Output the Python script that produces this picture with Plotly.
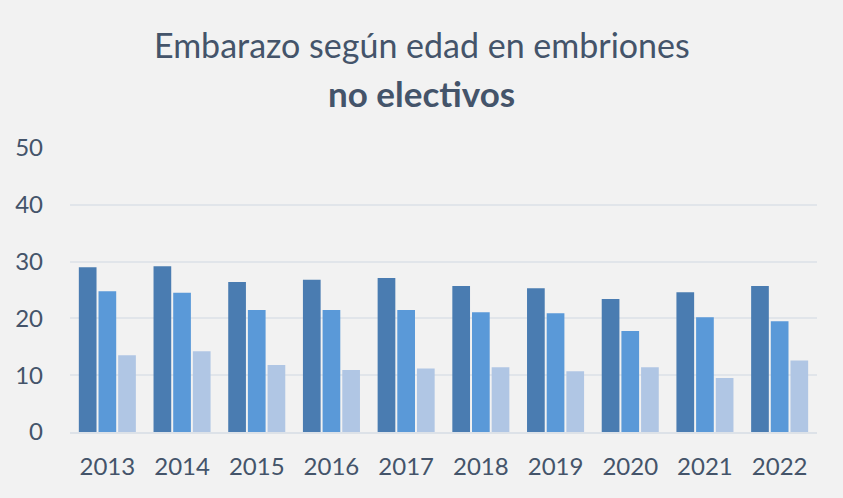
import plotly.graph_objects as go

years = ["2013", "2014", "2015", "2016", "2017", "2018", "2019", "2020", "2021", "2022"]
serie_a = [29.0, 29.2, 26.4, 26.8, 27.1, 25.7, 25.3, 23.4, 24.6, 25.7]
serie_b = [24.8, 24.5, 21.5, 21.5, 21.5, 21.1, 20.9, 17.8, 20.2, 19.5]
serie_c = [13.5, 14.2, 11.8, 10.9, 11.2, 11.4, 10.7, 11.4, 9.5, 12.6]
y_ticks = [0, 10, 20, 30, 40, 50]

colors = ["#4a7cb1", "#5a99d8", "#b0c6e4"]
text_color = "#44546a"
font = "Lato, Open Sans, sans-serif"

W, H = 843, 498
L, R, T, B = 70, 26, 148, 66

fig = go.Figure()
for vals, c in zip([serie_a, serie_b, serie_c], colors):
    fig.add_trace(go.Bar(x=years, y=vals, marker=dict(color=c, line=dict(width=0)),
                         hoverinfo="y", showlegend=False))

plot_h = H - T - B
plot_w = W - L - R
def py(pix_from_top):
    return (H - pix_from_top - B) / plot_h

fig.update_layout(
    width=W, height=H,
    paper_bgcolor="#f2f2f2", plot_bgcolor="#f2f2f2",
    margin=dict(l=L, r=R, t=T, b=B),
    barmode="group", bargap=0.21, bargroupgap=0.1,
    font=dict(family=font, color=text_color, size=24),
    xaxis=dict(showgrid=False, showline=True, linecolor="#dde2e8", linewidth=2,
               ticks="", ticklabelstandoff=12, tickfont=dict(size=24, color=text_color)),
    yaxis=dict(range=[0, 50], tickvals=y_ticks, showgrid=True, gridcolor="#e1e5ea",
               gridwidth=1.5, zeroline=False, showline=False, ticks="",
               ticklabelstandoff=26, tickfont=dict(size=24, color=text_color)),
    annotations=[
        dict(text="Embarazo según edad en embriones", x=(W / 2 - L) / plot_w, y=py(45),
             xref="paper", yref="paper", xanchor="center", yanchor="middle",
             showarrow=False, font=dict(size=34, color=text_color, family=font)),
        dict(text="<b>no electivos</b>", x=(W / 2 - L) / plot_w, y=py(93),
             xref="paper", yref="paper", xanchor="center", yanchor="middle",
             showarrow=False, font=dict(size=35, color=text_color, family=font)),
    ],
)

fig.write_html("out.html", config={"displayModeBar": False},
               post_script="document.body.style.margin='0';document.body.style.background='#f2f2f2';")
